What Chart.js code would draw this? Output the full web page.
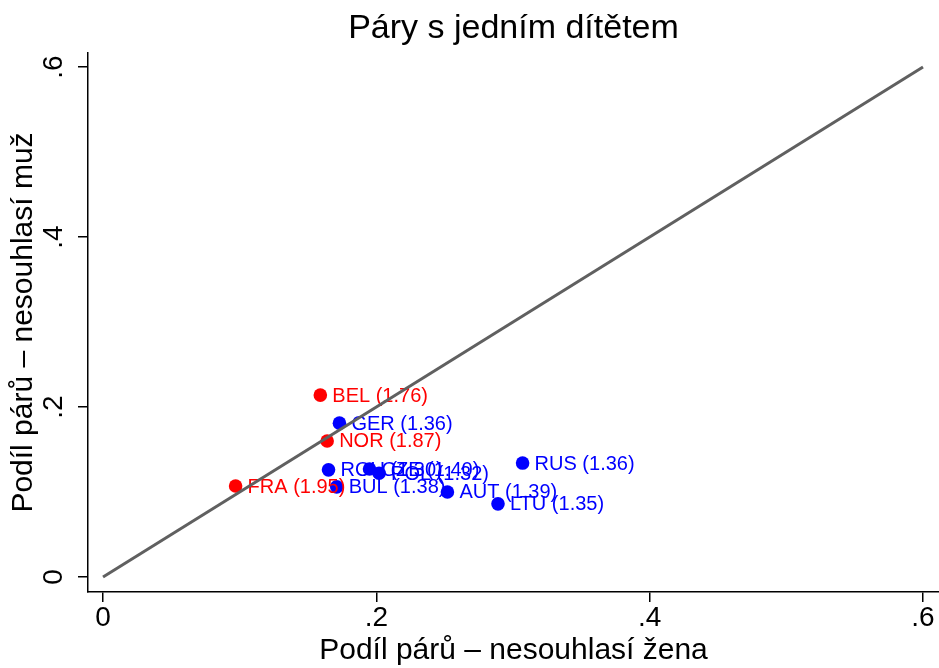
<!DOCTYPE html>
<html>
<head>
<meta charset="utf-8">
<script src="https://cdn.jsdelivr.net/npm/chart.js@4/dist/chart.umd.min.js"></script>
<style>
  html, body { margin: 0; padding: 0; background: #ffffff; }
  #wrap { width: 939px; height: 668px; }
</style>
</head>
<body>
<div id="wrap"><canvas id="c" width="939" height="668"></canvas></div>
<script>
// ---- data ----
const countries   = ["FRA", "BEL", "NOR", "GER", "ROU", "CZE", "POL", "BUL", "AUT", "LTU", "RUS"];
const shareWoman  = [0.097, 0.159, 0.164, 0.173, 0.165, 0.195, 0.202, 0.171, 0.252, 0.289, 0.307];
const shareMan    = [0.107, 0.214, 0.160, 0.181, 0.126, 0.127, 0.122, 0.106, 0.100, 0.086, 0.134];
const fertility   = ["1.95", "1.76", "1.87", "1.36", "1.30", "1.40", "1.32", "1.38", "1.39", "1.35", "1.36"];
const highGroup   = [true, true, true, false, false, false, false, false, false, false, false];
const diagonal    = [0, 0.6];
const tickValues  = [0, 0.2, 0.4, 0.6];
const tickLabels  = ["0", ".2", ".4", ".6"];
const titleText   = "Páry s jedním dítětem";
const xTitle      = "Podíl párů – nesouhlasí žena";
const yTitle      = "Podíl párů – nesouhlasí muž";

const RED = "rgb(255,0,0)";
const BLUE = "rgb(0,0,255)";
const FONT = "'Liberation Sans', Arial, Helvetica, sans-serif";

function pts(flag) {
  const out = [];
  countries.forEach((c, i) => {
    if (highGroup[i] === flag) out.push({ x: shareWoman[i], y: shareMan[i], label: c + " (" + fertility[i] + ")" });
  });
  return out;
}

const labelPlugin = {
  id: "pointLabels",
  afterDatasetDraw(chart, args) {
    const ds = chart.data.datasets[args.index];
    if (!ds.isScatterGroup) return;
    const meta = args.meta;
    const ctx = chart.ctx;
    ctx.save();
    ctx.font = "20px " + FONT;
    ctx.fillStyle = ds.backgroundColor;
    ctx.textAlign = "left";
    ctx.textBaseline = "middle";
    meta.data.forEach((el, j) => {
      ctx.fillText(ds.data[j].label, el.x + 12, el.y + 1);
    });
    ctx.restore();
  }
};

const tickFormatter = (value) => {
  const k = tickValues.findIndex(t => Math.abs(t - value) < 1e-9);
  return k >= 0 ? tickLabels[k] : "";
};

new Chart(document.getElementById("c"), {
  type: "scatter",
  data: {
    datasets: [
      {
        type: "line",
        data: diagonal.map(v => ({ x: v, y: v })),
        borderColor: "#606060",
        borderWidth: 3,
        pointRadius: 0,
        fill: false
      },
      {
        isScatterGroup: true,
        data: pts(true),
        backgroundColor: RED,
        borderColor: RED,
        borderWidth: 0,
        pointRadius: 6.8
      },
      {
        isScatterGroup: true,
        data: pts(false),
        backgroundColor: BLUE,
        borderColor: BLUE,
        borderWidth: 0,
        pointRadius: 6.8
      }
    ]
  },
  options: {
    responsive: false,
    animation: false,
    devicePixelRatio: 1,
    layout: { padding: 0, autoPadding: false },
    plugins: {
      legend: { display: false },
      tooltip: { enabled: false },
      title: {
        display: true,
        text: titleText,
        color: "#000",
        fullSize: false,
        font: { family: FONT, size: 34, weight: "normal", lineHeight: 1 },
        padding: { top: 12, bottom: 7 }
      }
    },
    scales: {
      x: {
        type: "linear",
        min: -0.011,
        max: 0.6117,
        afterBuildTicks: (s) => { s.ticks = tickValues.map(v => ({ value: v })); },
        afterFit: (s) => { s.height = 76; s.paddingLeft = 0; s.paddingRight = 0; },
        border: { display: true, color: "#000", width: 1.5 },
        grid: { drawOnChartArea: false, drawTicks: true, tickLength: 10, color: "#000", lineWidth: 1.5 },
        ticks: {
          color: "#000",
          font: { family: FONT, size: 28, lineHeight: 1 },
          padding: 2,
          maxRotation: 0,
          autoSkip: false,
          callback: tickFormatter
        },
        title: {
          display: true,
          text: xTitle,
          color: "#000",
          font: { family: FONT, size: 30, lineHeight: 1 },
          padding: { top: 0, bottom: 2 }
        }
      },
      y: {
        type: "linear",
        min: -0.0177,
        max: 0.6165,
        afterBuildTicks: (s) => { s.ticks = tickValues.map(v => ({ value: v })); },
        afterFit: (s) => { s.width = 88; s.paddingTop = 0; s.paddingBottom = 0; },
        border: { display: true, color: "#000", width: 1.5 },
        grid: { drawOnChartArea: false, drawTicks: true, tickLength: 10, color: "#000", lineWidth: 1.5 },
        ticks: {
          color: "#000",
          font: { family: FONT, size: 28, lineHeight: 1 },
          padding: 12,
          minRotation: 90,
          maxRotation: 90,
          crossAlign: "center",
          autoSkip: false,
          callback: tickFormatter
        },
        title: {
          display: true,
          text: yTitle,
          color: "#000",
          font: { family: FONT, size: 30, lineHeight: 1 },
          padding: { top: 9, bottom: 0 }
        }
      }
    }
  },
  plugins: [labelPlugin]
});
</script>
</body>
</html>
